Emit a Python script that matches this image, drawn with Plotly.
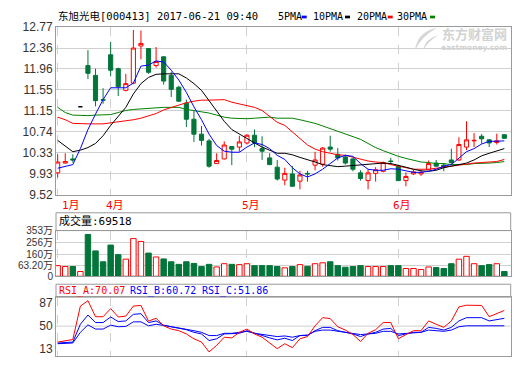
import plotly.graph_objects as go

# ---------------- data ----------------
month_labels = ["1月", "4月", "5月", "6月"]
month_start_idx = [0, 7, 25, 45]

opens = [9.94, 10.13, 10.21, 11.22, 12.02, 11.83, 11.36, 12.23, 11.96, 11.54,
         11.68, 12.40, 12.35, 12.02, 12.19, 11.83, 11.60, 11.29, 10.98, 10.69,
         10.56, 10.12, 10.21, 10.45, 10.44, 10.52, 10.67, 10.41, 10.23, 10.05,
         9.80, 9.92, 9.78, 9.93, 10.09, 10.11, 10.44, 10.30, 10.25, 10.21,
         9.94, 9.79, 9.93, 9.97, 10.17, 10.07, 9.79, 9.92, 9.92, 10.00,
         10.13, 10.09, 10.19, 10.19, 10.44, 10.56, 10.65, 10.58, 10.53, 10.68]
highs = [10.30, 10.32, 10.30, 11.22, 12.32, 11.96, 11.58, 12.48, 11.98, 11.86,
         12.71, 12.70, 12.36, 12.38, 12.20, 11.90, 11.63, 11.36, 11.14, 10.85,
         10.60, 10.32, 10.55, 10.46, 10.66, 10.69, 10.78, 10.65, 10.32, 10.19,
         10.04, 10.07, 9.98, 9.98, 10.35, 10.44, 10.66, 10.42, 10.29, 10.23,
         9.99, 10.01, 10.05, 10.16, 10.23, 10.10, 9.95, 10.00, 9.99, 10.18,
         10.19, 10.13, 10.41, 10.63, 10.94, 10.71, 10.69, 10.59, 10.70, 10.68]
lows = [9.85, 10.12, 10.14, 11.22, 11.76, 11.23, 11.28, 11.81, 11.43, 11.52,
        11.66, 12.14, 11.86, 11.98, 11.65, 11.41, 11.32, 10.83, 10.54, 10.47,
        10.04, 10.12, 10.20, 10.09, 10.35, 10.49, 10.44, 10.19, 10.09, 9.79,
        9.70, 9.68, 9.62, 9.77, 9.99, 10.06, 10.35, 10.18, 10.10, 9.97,
        9.79, 9.62, 9.77, 9.95, 10.09, 9.78, 9.68, 9.90, 9.88, 9.99,
        10.06, 9.97, 10.10, 10.17, 10.38, 10.44, 10.51, 10.44, 10.49, 10.61]
closes = [10.15, 10.16, 10.19, 11.22, 11.87, 11.34, 11.35, 11.93, 11.61, 11.67,
          12.36, 12.45, 11.89, 12.10, 11.72, 11.56, 11.33, 10.98, 10.69, 10.57,
          10.07, 10.18, 10.48, 10.40, 10.54, 10.67, 10.52, 10.36, 10.10, 9.82,
          9.93, 9.68, 9.90, 9.92, 10.19, 10.42, 10.40, 10.23, 10.13, 10.01,
          9.83, 9.94, 10.00, 10.14, 10.16, 9.79, 9.87, 9.96, 9.95, 10.12,
          10.07, 10.06, 10.14, 10.49, 10.58, 10.57, 10.60, 10.52, 10.56, 10.61]

ma5 = [10.03, 10.07, 10.10, 10.41, 10.78, 11.08, 11.36, 11.59, 11.59, 11.59,
       11.68, 12.01, 12.03, 12.11, 12.09, 11.93, 11.74, 11.50, 11.22, 10.97,
       10.69, 10.47, 10.36, 10.34, 10.34, 10.44, 10.52, 10.49, 10.41, 10.28,
       10.20, 10.04, 9.92, 9.86, 9.92, 10.01, 10.12, 10.23, 10.28, 10.26,
       10.12, 10.01, 9.99, 9.99, 10.02, 10.01, 9.98, 9.95, 9.95, 9.97,
       10.01, 10.07, 10.10, 10.23, 10.35, 10.41, 10.50, 10.55, 10.56, 10.56]
ma10 = [10.57, 10.46, 10.35, 10.38, 10.43, 10.51, 10.66, 10.86, 11.03, 11.21,
        11.47, 11.67, 11.79, 11.85, 11.86, 11.86, 11.86, 11.78, 11.67, 11.54,
        11.34, 11.13, 10.94, 10.78, 10.69, 10.61, 10.52, 10.44, 10.38, 10.32,
        10.32, 10.29, 10.24, 10.20, 10.15, 10.10, 10.08, 10.06, 10.07, 10.08,
        10.09, 10.10, 10.11, 10.13, 10.12, 10.09, 10.05, 10.01, 9.98, 9.97,
        9.99, 10.04, 10.07, 10.10, 10.13, 10.19, 10.27, 10.32, 10.36, 10.41]
ma20 = [11.02, 10.97, 10.90, 10.89, 10.89, 10.89, 10.89, 10.91, 10.93, 10.94,
        10.97, 11.00, 11.04, 11.09, 11.16, 11.21, 11.25, 11.30, 11.33, 11.35,
        11.35, 11.35, 11.36, 11.31, 11.28, 11.25, 11.21, 11.15, 11.03, 10.92,
        10.86, 10.73, 10.60, 10.48, 10.40, 10.35, 10.32, 10.29, 10.28, 10.24,
        10.20, 10.17, 10.15, 10.14, 10.10, 10.07, 10.03, 10.01, 10.01, 10.01,
        10.03, 10.05, 10.07, 10.10, 10.11, 10.13, 10.14, 10.15, 10.16, 10.20]
ma30 = [11.21, 11.11, 11.06, 11.05, 11.05, 11.06, 11.07, 11.07, 11.11, 11.15,
        11.17, 11.18, 11.19, 11.21, 11.21, 11.21, 11.21, 11.17, 11.15, 11.12,
        11.10, 11.06, 11.02, 11.00, 10.99, 10.99, 11.00, 11.01, 11.02, 11.00,
        11.00, 11.00, 10.97, 10.94, 10.90, 10.85, 10.80, 10.75, 10.70, 10.65,
        10.59, 10.51, 10.43, 10.37, 10.31, 10.26, 10.22, 10.18, 10.15, 10.14,
        10.12, 10.12, 10.10, 10.10, 10.10, 10.12, 10.12, 10.13, 10.14, 10.16]

volume_wan = [82, 75, 75, 37, 323, 196, 112, 241, 167, 132,
              291, 269, 179, 149, 134, 112, 92, 112, 99, 75,
              92, 72, 97, 92, 90, 97, 82, 82, 82, 75,
              65, 75, 90, 77, 97, 104, 112, 82, 70, 75,
              82, 75, 75, 75, 82, 82, 60, 60, 52, 72,
              67, 60, 97, 132, 154, 97, 82, 90, 97, 37]

rsi_a = [24.5, 26, 28.6, 82, 90.6, 65, 65, 78, 64.6, 66,
         82, 83, 58, 62.5, 50.5, 45.3, 42.7, 37.5, 29.7, 24.5,
         8.8, 19.3, 32.3, 31.2, 40.1, 45.3, 37.5, 32.3, 22.9, 14,
         21.9, 15.6, 29.7, 33.3, 50.5, 63.5, 62, 49, 43.7, 36.5,
         25.5, 38.5, 44.3, 55.7, 55.7, 29.7, 36.5, 42.7, 42.7, 58.3,
         53, 48, 58.3, 80.7, 83.4, 83, 83, 65, 70.3, 75]
rsi_b = [23, 23.5, 24.5, 53, 67.7, 55.7, 55.7, 64.6, 57.3, 58.3,
         68.8, 69.8, 55.7, 58.3, 51.6, 49, 46.4, 44.3, 40.1, 37.5,
         27, 29.7, 37.5, 37.5, 38.5, 42.7, 38.5, 34.9, 31.2, 28,
         30.7, 27, 34.9, 34.9, 42.7, 48, 48, 42.7, 40.1, 37.5,
         33.3, 37.5, 40.1, 45.3, 46.4, 34.9, 37.5, 40.1, 40.1, 48,
         46.4, 43.7, 48, 58.3, 63.5, 63.5, 63.5, 58.3, 60, 62.5]
rsi_c = [21.9, 22.4, 23, 40.1, 52, 45.3, 45.3, 51.6, 49, 49.5,
         56.8, 56.8, 50.5, 53, 50.5, 49, 47, 45.3, 42.7, 40.1,
         34.9, 34.9, 38.5, 38.5, 40.1, 41.7, 38.5, 36.5, 34.9, 33.3,
         34.3, 32.3, 34.9, 35.9, 41.7, 43.7, 43.7, 41.7, 40.1, 38.5,
         36.5, 37.5, 38.5, 41.7, 41.7, 37.5, 38.5, 40.1, 40.1, 43.7,
         42.7, 41.7, 43.7, 49, 50.5, 50.5, 50.5, 49.5, 49.5, 50.5]

price_ticks = [9.52, 9.93, 10.33, 10.74, 11.15, 11.55, 11.96, 12.36, 12.77]
# the source chart places its volume gridlines evenly; labels as printed on them
vol_tick_pos = [0, 82, 169, 258, 353]
vol_tick_text = ["0", "63.20万", "160万", "256万", "353万"]
rsi_ticks = [13, 50, 87]

title_text = "东旭光电[000413] 2017-06-21 09:40"
vol_header = "成交量:69518"
rsi_headers = ["RSI_A:70.07", "RSI_B:60.72", "RSI_C:51.86"]
ma_names = ["5PMA", "10PMA", "20PMA", "30PMA"]

# ---------------- styles ----------------
W, H = 520, 365
RED = "#ff0000"
GREEN = "#03753a"
BLUE = "#0000ff"
BLACK = "#000000"
MAGREEN = "#008000"
GRID = "#d0d0d0"
BORDER = "#9a9a9a"
MONO = "DejaVu Sans Mono, Noto Sans CJK SC"
TICKF = dict(family="Liberation Sans", size=12, color="#333333")
VTICKF = dict(family="Liberation Sans, Noto Sans CJK SC", size=10, color="#333333")


def px(x):
    return x / W


def py(y):
    return 1 - y / H


n = len(closes)
idx = list(range(n))
flat = [i for i in idx if opens[i] == highs[i] == lows[i] == closes[i]]
normal = [i for i in idx if i not in flat]

fig = go.Figure()

fig.add_trace(go.Candlestick(
    x=[i for i in normal], open=[opens[i] for i in normal],
    high=[highs[i] for i in normal], low=[lows[i] for i in normal],
    close=[closes[i] for i in normal],
    increasing=dict(line=dict(color=RED, width=1), fillcolor="white"),
    decreasing=dict(line=dict(color=GREEN, width=1), fillcolor=GREEN),
    whiskerwidth=0, xaxis="x", yaxis="y", hoverinfo="skip", showlegend=False))
if flat:
    fig.add_trace(go.Candlestick(
        x=flat, open=[opens[i] for i in flat], high=[highs[i] for i in flat],
        low=[lows[i] for i in flat], close=[closes[i] for i in flat],
        increasing=dict(line=dict(color=BLACK, width=1.5), fillcolor=BLACK),
        decreasing=dict(line=dict(color=BLACK, width=1.5), fillcolor=BLACK),
        whiskerwidth=0, xaxis="x", yaxis="y", hoverinfo="skip", showlegend=False))

for vals, col in [(ma30, MAGREEN), (ma20, RED), (ma10, BLACK), (ma5, BLUE)]:
    fig.add_trace(go.Scatter(x=idx, y=vals, mode="lines", line=dict(color=col, width=1),
                             xaxis="x", yaxis="y", hoverinfo="skip", showlegend=False))

up = [closes[i] >= opens[i] for i in idx]
fig.add_trace(go.Bar(
    x=idx, y=volume_wan, width=0.72,
    marker=dict(color=["white" if u else GREEN for u in up],
                line=dict(color=[RED if u else GREEN for u in up], width=1)),
    xaxis="x2", yaxis="y2", hoverinfo="skip", showlegend=False))

for vals, col in [(rsi_c, BLUE), (rsi_b, BLUE), (rsi_a, RED)]:
    fig.add_trace(go.Scatter(x=idx, y=vals, mode="lines", line=dict(color=col, width=1),
                             xaxis="x3", yaxis="y3", hoverinfo="skip", showlegend=False))

xdom = [px(56), px(510.7)]
xr = [-0.22, 59.84]
xcommon = dict(domain=xdom, range=xr, tickvals=month_start_idx, showticklabels=False,
               showgrid=True, gridcolor=GRID, griddash="dash", gridwidth=1,
               showline=True, mirror=True, linecolor=BORDER, linewidth=1,
               zeroline=False, ticks="", fixedrange=True)
ycommon = dict(showline=True, mirror=True, linecolor=BORDER, linewidth=1,
               zeroline=False, ticks="", gridcolor=GRID, fixedrange=True)

fig.update_layout(
    width=W, height=H, margin=dict(l=0, r=0, t=0, b=0),
    paper_bgcolor="white", plot_bgcolor="white", showlegend=False,
    boxgap=0.22,
    xaxis=dict(**xcommon, anchor="y", rangeslider=dict(visible=False)),
    yaxis=dict(**ycommon, domain=[py(195), py(20.7)], range=[9.52, 12.77], tickfont=TICKF,
               tickvals=price_ticks, ticktext=[f"{v:.2f}" for v in price_ticks], anchor="x"),
    xaxis2=dict(**xcommon, anchor="y2"),
    yaxis2=dict(**ycommon, domain=[py(280), py(232.5)], range=[0, 353], tickfont=VTICKF,
                tickvals=vol_tick_pos, ticktext=vol_tick_text, anchor="x2"),
    xaxis3=dict(**xcommon, anchor="y3"),
    yaxis3=dict(**ycommon, domain=[py(363.3), py(301.7)], range=[1.7, 96.3], tickfont=TICKF,
                tickvals=rsi_ticks, showgrid=False, anchor="x3"),
)

shapes = []
shapes.append(dict(type="rect", xref="paper", yref="paper", x0=px(56), x1=px(510.7),
                   y0=py(232.5), y1=py(214), line=dict(color=BORDER, width=1)))
shapes.append(dict(type="rect", xref="paper", yref="paper", x0=px(56), x1=px(510.7),
                   y0=py(301.7), y1=py(288.3), line=dict(color=BORDER, width=1)))
shapes.append(dict(type="line", xref="x3 domain", yref="y3", x0=0, x1=1, y0=50, y1=50,
                   line=dict(color=GRID, width=1), layer="below"))
for (x0, x1), col in zip([(301.7, 306.7), (345, 350), (387.7, 392.7), (430, 435)],
                         [BLUE, BLACK, RED, MAGREEN]):
    shapes.append(dict(type="rect", xref="paper", yref="paper", x0=px(x0), x1=px(x1),
                       y0=py(11.8), y1=py(9.0), fillcolor=col, line=dict(width=0)))


def path(pts):
    s = ""
    for cmd, coords in pts:
        s += cmd + " " + " ".join(f"{px(coords[k]):.5f},{py(coords[k+1]):.5f}"
                                  for k in range(0, len(coords), 2)) + " "
    return s + "Z"


shapes.append(dict(type="path", xref="paper", yref="paper",
                   path=path([("M", (437, 21.5)), ("Q", (417, 26, 415, 45)), ("Q", (421, 31, 437, 21.5))]),
                   fillcolor="#d6d6d6", line=dict(width=0)))
shapes.append(dict(type="path", xref="paper", yref="paper",
                   path=path([("M", (438, 29)), ("Q", (425, 33, 423, 45)), ("Q", (428, 36, 438, 29))]),
                   fillcolor="#d6d6d6", line=dict(width=0)))
fig.update_layout(shapes=shapes)

ann = []


def text(x, y, s, color="black", size=10, family=MONO, anchor="left"):
    ann.append(dict(xref="paper", yref="paper", x=px(x), y=py(y), text=s, showarrow=False,
                    xanchor=anchor, yanchor="middle", font=dict(family=family, size=size, color=color)))


text(56, 9.5, title_text, size=10.5)
for name, x0 in zip(ma_names, [275.7, 310.7, 355, 395]):
    text(x0, 10.3, name, size=10)
text(474, 27.5, "<b>东方财富网</b>", color="#d2d2d2", size=13, family="Noto Sans CJK SC", anchor="center")
text(474, 42.5, "<b>eastmoney.com</b>", color="#d2d2d2", size=7.5, family="DejaVu Sans", anchor="center")
text(56.5, 223, vol_header, size=11)
for s, x0, col in zip(rsi_headers, [56.5, 127.5, 199.5], [RED, BLUE, BLUE]):
    text(x0, 295, s, color=col, size=10)

for k, (lab, i0) in enumerate(zip(month_labels, month_start_idx)):
    ann.append(dict(xref="x", yref="paper", x=i0, y=py(206.5), text=lab, showarrow=False,
                    xanchor="left" if k == 0 else "center", xshift=2 if k == 0 else 4,
                    yanchor="middle", font=dict(family=MONO, size=11, color=RED)))

fig.update_layout(annotations=ann)
fig.write_html("out.html")
